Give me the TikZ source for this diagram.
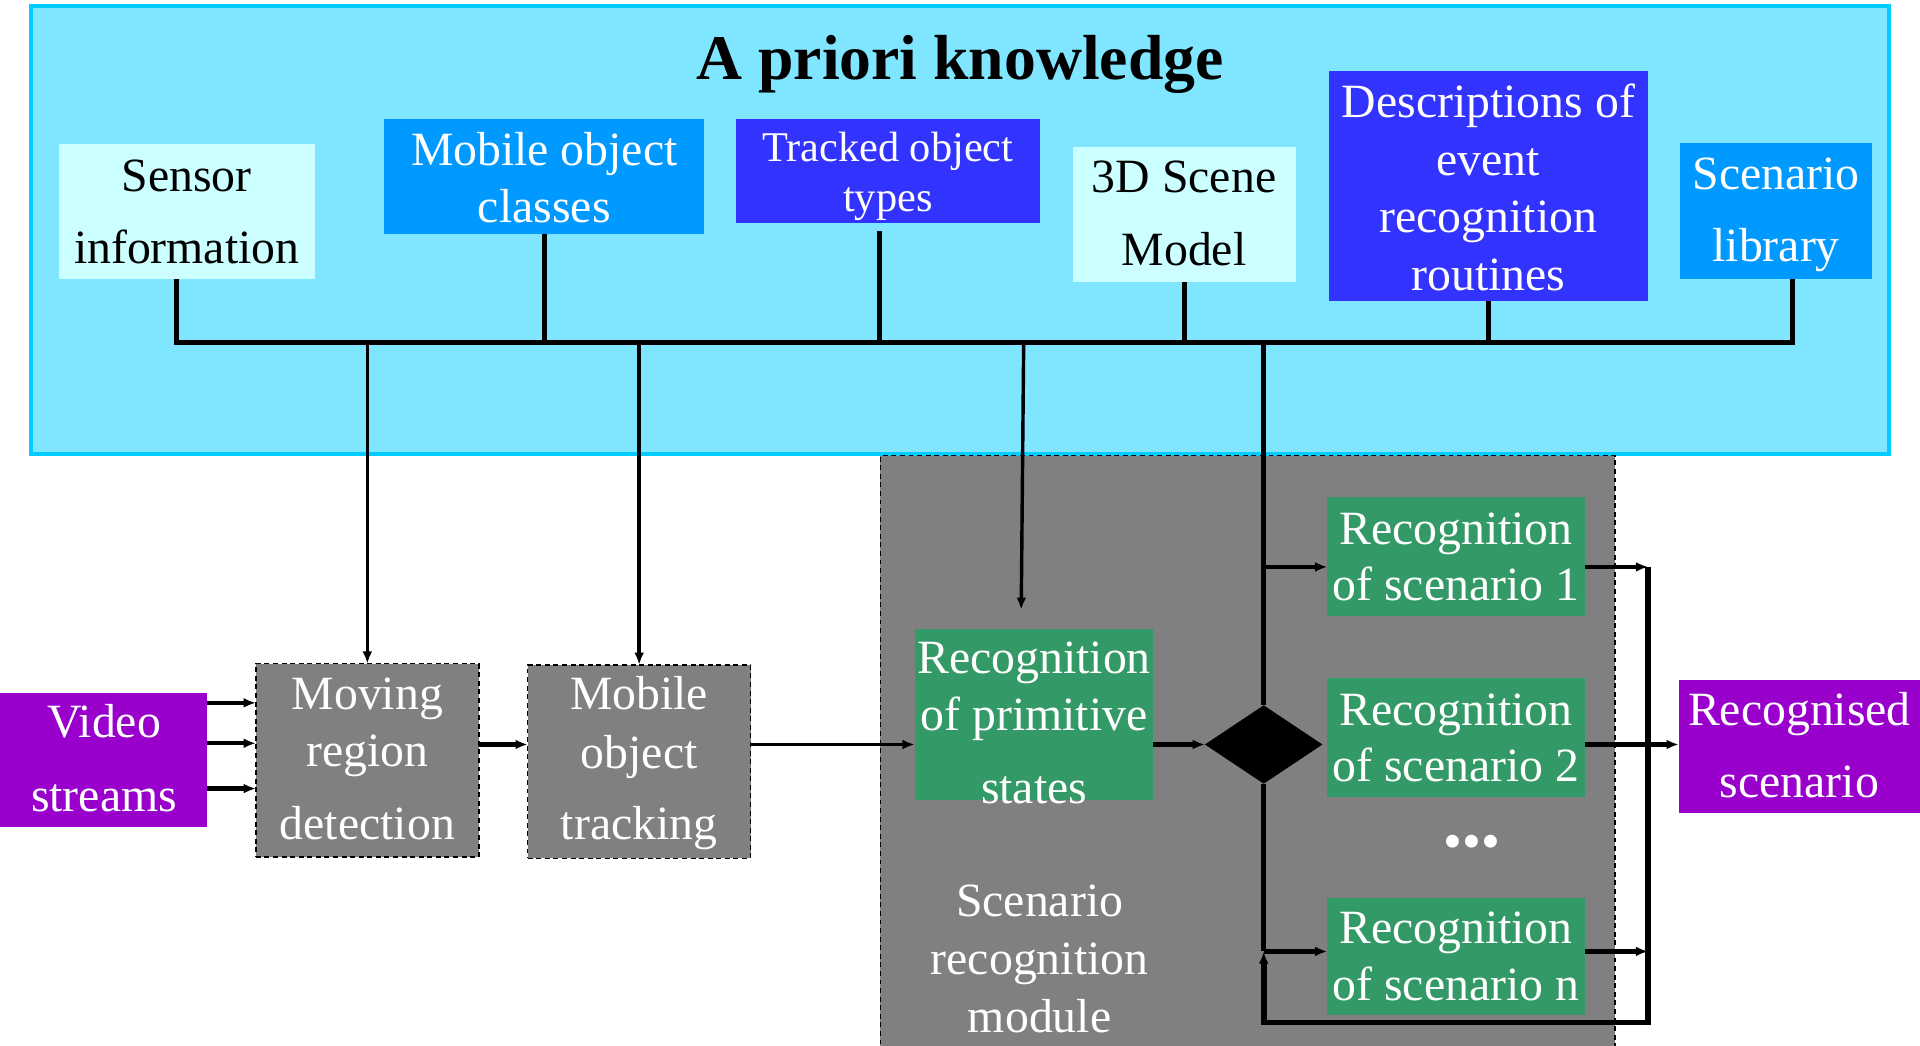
\documentclass[tikz,border=0pt]{standalone}
\usepackage{fontspec}
\setmainfont{Liberation Serif}
\usetikzlibrary{arrows.meta,shapes.geometric}

\definecolor{panelfill}{HTML}{80E5FF}
\definecolor{panelline}{HTML}{00CCFF}
\definecolor{palecyan}{HTML}{CCFFFF}
\definecolor{midblue}{HTML}{0099FF}
\definecolor{deepblue}{HTML}{3333FF}
\definecolor{violet}{HTML}{9900CC}
\definecolor{stepgreen}{HTML}{339966}
\definecolor{stepgray}{HTML}{808080}

\newcommand{\setfs}[2]{\fontsize{#1}{#2}\selectfont}

\begin{document}
\begin{tikzpicture}[x=0.5pt,y=-0.5pt,
  >={Latex[length=5pt,width=4pt]},
  block/.style={inner sep=0pt, outer sep=0pt},
  graybox/.style={block, fill=stepgray, draw=black, line width=0.6pt, dash pattern=on 2pt off 1.5pt},
  lbl/.style={anchor=base, inner sep=0pt, outer sep=0pt, text width=160pt, align=flush center},
  bus/.style={line width=2pt},
  drop/.style={line width=1.4pt},
  mid/.style={line width=1.8pt},
  heavy/.style={line width=2.3pt},
]
\useasboundingbox (0,0) rectangle (1568,854);

% knowledge panel and scenario module background
\node[block, fill=panelfill, draw=panelline, line width=1.6pt,
      minimum width=759pt, minimum height=183pt] (panel) at (784,188) {};
\node[graybox, minimum width=300pt, minimum height=264pt] (module) at (1019,636) {};

% knowledge sources
\node[block, fill=palecyan, minimum width=104.5pt, minimum height=55pt] (sensor) at (152.5,173) {};
\node[block, fill=midblue, minimum width=130.5pt, minimum height=47pt] (classes) at (444.5,144) {};
\node[block, fill=deepblue, minimum width=124pt, minimum height=42.5pt] (tracked) at (725,139.5) {};
\node[block, fill=palecyan, minimum width=91pt, minimum height=55pt] (scene) at (967,175) {};
\node[block, fill=deepblue, minimum width=130.5pt, minimum height=94pt] (descr) at (1215.5,152) {};
\node[block, fill=midblue, minimum width=78.5pt, minimum height=55.5pt] (library) at (1450.5,172.5) {};

% processing chain
\node[block, fill=violet, minimum width=84.5pt, minimum height=54.5pt] (video) at (84.5,620.5) {};
\node[graybox, minimum width=91pt, minimum height=79pt] (moving) at (300,621) {};
\node[graybox, minimum width=91pt, minimum height=79pt] (tracking) at (522,622) {};
\node[block, fill=stepgreen, minimum width=97.5pt, minimum height=69.5pt] (prim) at (844.5,583.5) {};
\node[diamond, fill=black, inner sep=0pt, outer sep=0pt, minimum width=48pt, minimum height=32pt] (dia) at (1032,608) {};
\node[block, fill=stepgreen, minimum width=105pt, minimum height=48.5pt] (scen1) at (1189,454.5) {};
\node[block, fill=stepgreen, minimum width=105pt, minimum height=48.5pt] (scen2) at (1189,602.5) {};
\node[block, fill=stepgreen, minimum width=105pt, minimum height=48pt] (scenn) at (1189,781) {};
\node[block, fill=violet, minimum width=99.5pt, minimum height=54.5pt] (recog) at (1470.5,609.5) {};

% texts
\node[lbl, text width=320pt, font=\bfseries\setfs{26pt}{30pt}] (title) at (784,65) {A priori knowledge};
\node[lbl, font=\setfs{19.5pt}{29.5pt}] (sensor-t) at (152.5,156) {Sensor\\information};
\node[lbl, font=\setfs{19.5pt}{23.5pt}, text=white] (classes-t) at (444.5,135) {Mobile object\\classes};
\node[lbl, font=\setfs{17.3pt}{20.5pt}, text=white] (tracked-t) at (725,131.5) {Tracked object\\types};
\node[lbl, font=\setfs{19.5pt}{29.8pt}] (scene-t) at (967,157.3) {3D Scene\\Model};
\node[lbl, font=\setfs{19.5pt}{23.5pt}, text=white] (descr-t) at (1215.5,96) {Descriptions of\\event\\recognition\\routines};
\node[lbl, font=\setfs{19.5pt}{29.5pt}, text=white] (library-t) at (1450.5,154.6) {Scenario\\library};

\node[lbl, font=\setfs{19.5pt}{30pt}, text=white] (video-t) at (85,602.4) {Video\\streams};
\node[lbl, font=\setfs{19.5pt}{23.3pt}, text=white] (moving-t) at (300,579.4) {Moving\\region\\[6.7pt]detection};
\node[lbl, font=\setfs{19.5pt}{24.3pt}, text=white] (tracking-t) at (522,579.4) {Mobile\\object\\[4.7pt]tracking};
\node[lbl, font=\setfs{19.5pt}{23.2pt}, text=white] (prim-t) at (844.5,550.3) {Recognition\\of primitive\\[6.5pt]states};
\node[lbl, font=\setfs{19.5pt}{23pt}, text=white] (scen1-t) at (1189,444.6) {Recognition\\of scenario 1};
\node[lbl, font=\setfs{19.5pt}{23pt}, text=white] (scen2-t) at (1189,592.3) {Recognition\\of scenario 2};
\node[lbl, font=\setfs{19.5pt}{23pt}, text=white] (scenn-t) at (1189,770.7) {Recognition\\of scenario n};
\node[lbl, font=\setfs{22pt}{24pt}, text=white] (dots) at (1202,702) {•••};
\node[lbl, font=\setfs{19.5pt}{29.5pt}, text=white] (recog-t) at (1469.5,592.3) {Recognised\\scenario};
\node[lbl, font=\setfs{19.5pt}{23.7pt}, text=white] (module-t) at (849,748.2) {Scenario\\recognition\\module};

% bus collecting the a priori knowledge
\coordinate (busL) at (144,280);
\coordinate (busR) at (1464,280);
\coordinate (tk) at (718,280);
\draw[bus] (sensor.south -| busL) -- (busL) -- (busR) -- (library.south -| busR);
\draw[bus] (classes.south) -- (classes.south |- busL);
\draw[bus] ([yshift=-3.5pt]tracked.south -| tk) -- (tk);
\draw[bus] (scene.south) -- (scene.south |- busL);
\draw[bus] (descr.south) -- (descr.south |- busL);

% knowledge fed to the processing steps
\coordinate (j1) at (300,280);
\coordinate (j2) at (522,280);
\coordinate (j3) at (836,280);
\coordinate (j4) at (1032,280);
\coordinate (primin) at (834,498);
\draw[drop,->] (j1) -- (moving.north);
\draw[drop,->] (j2) -- (tracking.north);
\draw[drop,->] (j3) -- (primin);
\draw[bus] (j4) -- (dia.north);

% video streams into detection
\coordinate (v1) at (169,574);
\coordinate (v2) at (169,607);
\coordinate (v3) at (169,644);
\draw[mid,->] (v1) -- (moving.west |- v1);
\draw[mid,->] (v2) -- (moving.west |- v2);
\draw[mid,->] (v3) -- (moving.west |- v3);

% main chain
\draw[mid,->] (moving.east |- dia) -- (tracking.west |- dia);
\draw[drop,->] (tracking.east |- dia) -- (prim.west |- dia);
\draw[heavy,->] (prim.east |- dia) -- (dia.west);

% dispatch to the scenario recognisers
\coordinate (b1) at (1032,463);
\coordinate (bn) at (1032,777);
\coordinate (rt) at (1346,463);
\coordinate (rb) at (1346,835);
\coordinate (lb) at (1032,835);
\draw[mid,->] (b1) -- (scen1.west |- b1);
\draw[mid] (dia.south) -- (bn);
\draw[mid,->] (bn) -- (scenn.west |- bn);
\draw[mid,->] (scen1.east |- rt) -- (rt);
\draw[mid,->] (scenn.east |- bn) -- (rt |- bn);
\draw[heavy,->] (rt) -- (rb) -- (lb) -- (bn);
\draw[mid,->] (scen2.east |- dia) -- (recog.west |- dia);
\end{tikzpicture}
\end{document}
